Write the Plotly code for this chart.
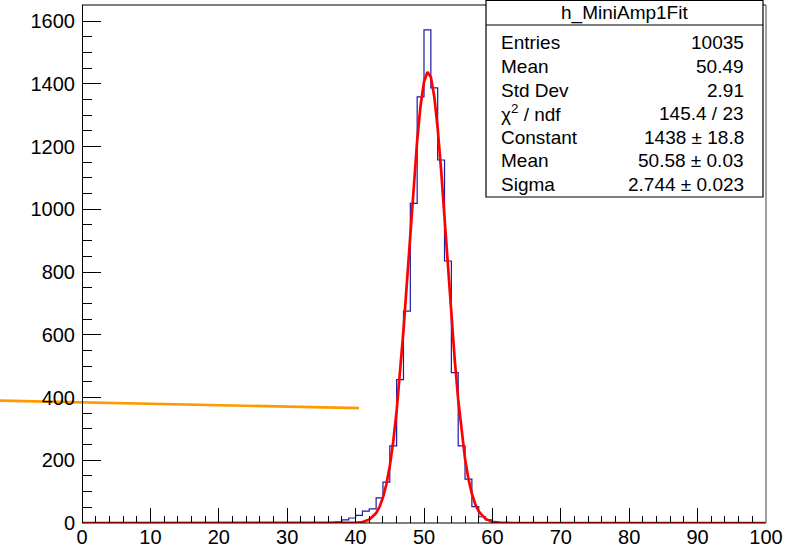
import plotly.graph_objects as go

# ---------------- data ----------------
n_bins = 100
bin_width = 1.0
first_bin = 35
counts_nonzero = [1, 2, 4, 10, 16, 24, 38, 45, 80, 130, 246, 457, 675, 1019,
                  1358, 1572, 1387, 1157, 835, 479, 246, 140, 52, 20, 10, 3, 1]

fit_x = [0, 38, 39, 40, 41, 42, 43, 43.5, 44, 44.5, 45, 45.5, 46, 46.5, 47, 47.5,
         48, 48.5, 49, 49.5, 50, 50.5, 51, 51.5, 52, 52.5, 53, 53.5, 54, 54.5,
         55, 55.5, 56, 56.5, 57, 57.5, 58, 59, 60, 61, 62, 63, 100]
fit_y = [0, 0.05, 0.2, 0.85, 3.2, 10.8, 31.7, 51.6, 81.1, 123.5, 181.9, 259.1,
         357.1, 476.1, 613.9, 765.9, 924.3, 1079.0, 1218.3, 1330.8, 1406.2, 1437.4,
         1421.3, 1359.4, 1257.8, 1125.8, 974.7, 816.3, 661.4, 518.3, 393.0, 288.2,
         204.4, 140.3, 93.1, 59.8, 37.1, 13.0, 4.0, 1.1, 0.25, 0.05, 0]

line_x = [-11.99, 40.5]
line_y = [390, 366]

x_tickvals = [0, 10, 20, 30, 40, 50, 60, 70, 80, 90, 100]
x_minorvals = [v for v in range(2, 100, 2) if v % 10 != 0]
y_tickvals = [0, 200, 400, 600, 800, 1000, 1200, 1400, 1600]

stats_title = "h_MiniAmp1Fit"
stats_labels = ["Entries", "Mean", "Std Dev", "χ<sup>2</sup> / ndf", "Constant", "Mean", "Sigma"]
stats_values = ["10035", "50.49", "2.91", "145.4 / 23", "1438 ± 18.8", "50.58 ± 0.03", "2.744 ± 0.023"]

# -------------- build histogram outline --------------
counts = [0] * n_bins
for i, c in enumerate(counts_nonzero):
    counts[first_bin + i] = c
edges = [i * bin_width for i in range(n_bins + 1)]
step_y = counts + [counts[-1]]

# ---------------- layout geometry ----------------
W, H = 786, 550
ML, MR, MT, MB = 0, 20, 5, 27
PW, PH = W - ML - MR, H - MT - MB
AXIS_LEFT_PX = 82
X_LEFT = -AXIS_LEFT_PX / ((PW - AXIS_LEFT_PX) / 100.0)


def px(x):
    return (x - ML) / PW


def py(y):
    return (H - MB - y) / PH


FONT = "Liberation Sans, Arial, Helvetica, sans-serif"

fig = go.Figure()
fig.add_trace(go.Scatter(x=edges, y=step_y, mode="lines", line_shape="hv",
                         line=dict(color="#1a1aa8", width=1.2), hoverinfo="skip",
                         showlegend=False))
fig.add_trace(go.Scatter(x=fit_x, y=fit_y, mode="lines",
                         line=dict(color="#ff0000", width=2.7), hoverinfo="skip",
                         showlegend=False))
fig.add_trace(go.Scatter(x=line_x, y=line_y, mode="lines",
                         line=dict(color="#ff9900", width=2.7), hoverinfo="skip",
                         showlegend=False))

fig.update_layout(
    width=W, height=H,
    margin=dict(l=ML, r=MR, t=MT, b=MB, pad=0),
    paper_bgcolor="white", plot_bgcolor="white",
    template="none",
    font=dict(family=FONT, size=19, color="black"),
    xaxis=dict(domain=[0, 1], range=[X_LEFT, 100], tickvals=x_tickvals,
               ticks="inside", ticklen=15, tickwidth=1, tickcolor="black",
               showline=False, showgrid=False, zeroline=False,
               minor=dict(ticks="inside", tickvals=x_minorvals, ticklen=7,
                          tickcolor="black", tickwidth=1, showgrid=False),
               tickfont=dict(size=20, family=FONT), ticklabelstandoff=0),
    yaxis=dict(domain=[0, 1], range=[0, 1651], tickvals=y_tickvals,
               anchor="free", position=AXIS_LEFT_PX / PW,
               ticks="inside", ticklen=18, tickwidth=1, tickcolor="black",
               showline=True, linecolor="black", linewidth=1, mirror=False,
               showgrid=False, zeroline=False,
               minor=dict(ticks="inside", dtick=50, ticklen=9, tickcolor="black",
                          tickwidth=1, showgrid=False),
               tickfont=dict(size=20, family=FONT), ticklabelstandoff=3),
)

shapes = []
# frame: bottom and top (black), right (gray)
shapes.append(dict(type="line", xref="paper", yref="paper", x0=px(AXIS_LEFT_PX), x1=px(766),
                   y0=0, y1=0, line=dict(color="black", width=1.2)))
shapes.append(dict(type="line", xref="paper", yref="paper", x0=px(AXIS_LEFT_PX), x1=px(766),
                   y0=1, y1=1, line=dict(color="black", width=1.2)))
shapes.append(dict(type="line", xref="paper", yref="paper", x0=1, x1=1,
                   y0=0, y1=1, line=dict(color="#808080", width=1.5)))
# stats box
shapes.append(dict(type="rect", xref="paper", yref="paper", x0=px(486), x1=px(763),
                   y0=py(197), y1=py(0.5), line=dict(color="black", width=1.2),
                   fillcolor="white", layer="above"))
shapes.append(dict(type="line", xref="paper", yref="paper", x0=px(486), x1=px(763),
                   y0=py(25), y1=py(25), line=dict(color="black", width=1)))
fig.update_layout(shapes=shapes)

ann = [dict(text=stats_title, xref="paper", yref="paper", x=px(624.5), y=py(13),
            xanchor="center", yanchor="middle", showarrow=False,
            font=dict(size=19, family=FONT))]
row_y = [43, 66.5, 90, 113.5, 137, 160.5, 184]
for lab, val, yy in zip(stats_labels, stats_values, row_y):
    ann.append(dict(text=lab, xref="paper", yref="paper", x=px(499), y=py(yy),
                    xanchor="left", yanchor="middle", showarrow=False,
                    font=dict(size=19, family=FONT)))
    ann.append(dict(text=val, xref="paper", yref="paper", x=px(746), y=py(yy),
                    xanchor="right", yanchor="middle", showarrow=False,
                    font=dict(size=19, family=FONT)))
fig.update_layout(annotations=ann)

fig.write_html("out.html")
